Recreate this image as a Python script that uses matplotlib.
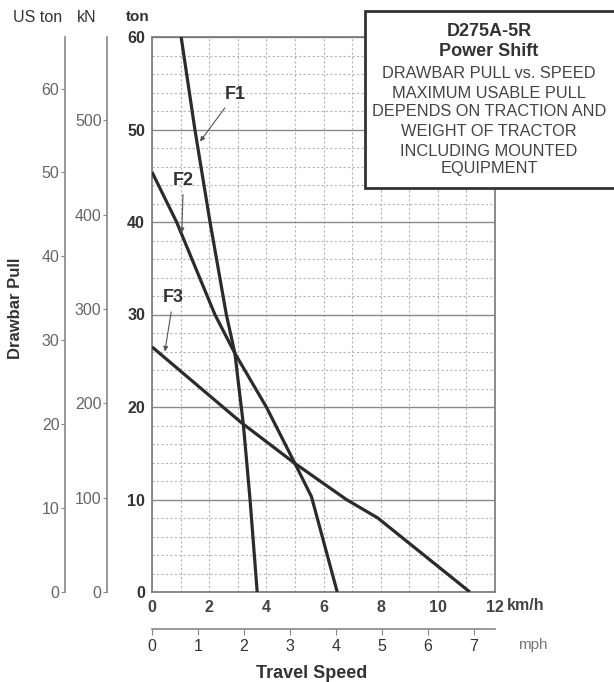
import matplotlib
matplotlib.use("Agg")
import matplotlib.pyplot as plt
from matplotlib.patches import Rectangle

plt.rcParams['font.family'] = ['Liberation Sans', 'DejaVu Sans']

# ---- data ----
f1_speed = [1.02, 1.5, 2.03, 2.6, 2.9, 3.2, 3.43, 3.68]
f1_pull = [60, 50, 40, 30, 25.8, 18, 10, 0]
f2_speed = [0, 0.86, 2.2, 2.9, 4.0, 5.0, 5.58, 6.48]
f2_pull = [45.4, 40, 30, 25.8, 20, 13.9, 10.3, 0]
f3_speed = [0, 3.13, 5.0, 6.8, 7.9, 11.12]
f3_pull = [26.5, 18.3, 13.9, 10, 8.0, 0]

ton_ticks = [0, 10, 20, 30, 40, 50, 60]
kn_ticks = [0, 100, 200, 300, 400, 500]
uston_ticks = [0, 10, 20, 30, 40, 50, 60]
kmh_ticks = [0, 2, 4, 6, 8, 10, 12]
mph_ticks = [0, 1, 2, 3, 4, 5, 6, 7]

box_title = ["D275A-5R", "Power Shift"]
box_body = ["DRAWBAR PULL vs. SPEED", "MAXIMUM USABLE PULL",
            "DEPENDS ON TRACTION AND", "WEIGHT OF TRACTOR",
            "INCLUDING MOUNTED", "EQUIPMENT"]

W, H = 614, 682
fig = plt.figure(figsize=(W / 100, H / 100), dpi=100)
ax = fig.add_axes([152 / W, 90 / H, 343 / W, 555 / H])
ax.set_xlim(0, 12)
ax.set_ylim(0, 60)

line_c = '#2b2b2b'
for xs, ys in [(f1_speed, f1_pull), (f2_speed, f2_pull), (f3_speed, f3_pull)]:
    ax.plot(xs, ys, color=line_c, lw=2.3, solid_capstyle='butt', zorder=3)

# grid
ax.set_yticks(ton_ticks)
ax.set_yticks([v for v in range(0, 61, 2) if v % 10], minor=True)
ax.set_xticks(kmh_ticks)
ax.set_xticks([1, 3, 5, 7, 9, 11], minor=True)
ax.grid(which='major', axis='y', color='#8a8a8a', lw=1.0, ls='-')
ax.grid(which='minor', axis='y', color='#b5b5b5', lw=0.8, ls=(0, (2, 2)))
ax.grid(which='both', axis='x', color='#b5b5b5', lw=0.8, ls=(0, (2, 2)))
ax.tick_params(which='both', length=0)
ax.tick_params(axis='y', pad=5, labelsize=11.5, labelcolor='#333')
ax.tick_params(axis='x', pad=6, labelsize=11.5, labelcolor='#444')
for lab in ax.get_yticklabels() + ax.get_xticklabels():
    lab.set_fontweight('bold')
for s in ax.spines.values():
    s.set_color('#777')
    s.set_linewidth(1.2)

# secondary axes
kn = ax.secondary_yaxis(-0.131, functions=(lambda t: t * 9.80665, lambda k: k / 9.80665))
kn.set_yticks(kn_ticks)
us = ax.secondary_yaxis(-0.2536, functions=(lambda t: t * 1.10231, lambda u: u / 1.10231))
us.set_yticks(uston_ticks)
for sa in (kn, us):
    sa.spines['left'].set_color('#888')
    sa.spines['left'].set_linewidth(1.2)
    sa.tick_params(length=3, color='#888', labelcolor='#666', labelsize=11.5, pad=1)

mph = ax.secondary_xaxis(-0.0667, functions=(lambda k: k / 1.609344, lambda m: m * 1.609344))
mph.set_xticks(mph_ticks)
mph.spines['bottom'].set_color('#888')
mph.spines['bottom'].set_linewidth(1.2)
mph.tick_params(length=4, color='#888', labelcolor='#333', labelsize=11.5, pad=3)

# axis headers / titles
fig.text(38 / W, 1 - 18 / H, "US ton", ha='center', va='center', fontsize=11.5, color='#333')
fig.text(87 / W, 1 - 18 / H, "kN", ha='center', va='center', fontsize=11.5, color='#333')
fig.text(138 / W, 1 - 17 / H, "ton", ha='center', va='center', fontsize=11, color='#333', fontweight='bold')
fig.text(507 / W, 1 - 606 / H, "km/h", ha='left', va='center', fontsize=11.5, color='#444', fontweight='bold')
fig.text(518 / W, 1 - 645 / H, "mph", ha='left', va='center', fontsize=11, color='#777')
fig.text(312 / W, 1 - 673 / H, "Travel Speed", ha='center', va='center', fontsize=13, color='#333', fontweight='bold')
fig.text(16 / W, 1 - 308 / H, "Drawbar Pull", ha='center', va='center', rotation=90, fontsize=12, color='#333', fontweight='bold')

# curve labels
arrow = dict(arrowstyle='-|>', color='#555', lw=0.8, mutation_scale=7, shrinkA=2, shrinkB=0)
ax.annotate("F1", xy=(1.68, 48.7), xytext=(2.9, 53.8), ha='center', va='center',
            fontsize=13, fontweight='bold', color='#333', arrowprops=arrow)
ax.annotate("F2", xy=(1.04, 38.8), xytext=(1.1, 44.5), ha='center', va='center',
            fontsize=13, fontweight='bold', color='#333', arrowprops=arrow)
ax.annotate("F3", xy=(0.45, 26.0), xytext=(0.75, 31.8), ha='center', va='center',
            fontsize=13, fontweight='bold', color='#333', arrowprops=arrow)

# info box
fig.patches.append(Rectangle((365 / W, 1 - 188 / H), 260 / W, 177 / H, transform=fig.transFigure,
                             facecolor='white', edgecolor='#333', lw=2, zorder=5, clip_on=False))
cx = 489 / W
ys = [31, 52]
for t, y in zip(box_title, ys):
    fig.text(cx, 1 - y / H, t, ha='center', va='center', fontsize=13, fontweight='bold', color='#333', zorder=6)
ys = [73, 93, 112, 132, 151, 169]
for t, y in zip(box_body, ys):
    fig.text(cx, 1 - y / H, t, ha='center', va='center', fontsize=11.8, color='#444', zorder=6)

fig.savefig("out.png", dpi=100)
